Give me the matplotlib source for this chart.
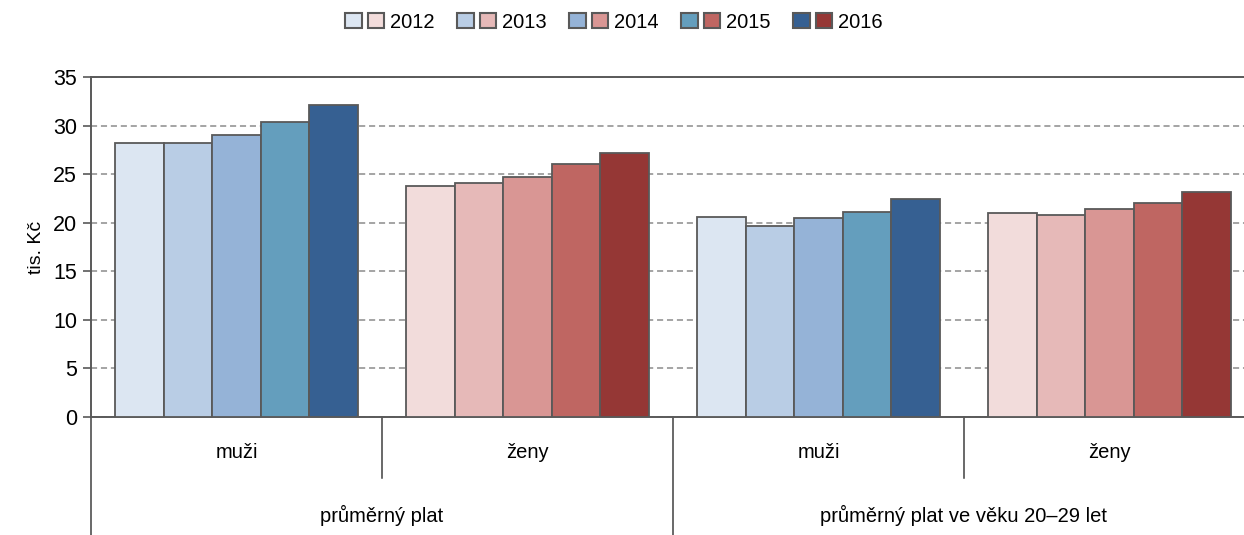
import numpy as np
import matplotlib
matplotlib.use('Agg')
from matplotlib import pyplot as plt
from matplotlib.patches import Patch
from matplotlib.legend_handler import HandlerTuple
import matplotlib.transforms as mtransforms

plt.rcParams['font.family'] = ['Liberation Sans', 'DejaVu Sans']

years = ['2012', '2013', '2014', '2015', '2016']
sub_labels = ['muži', 'ženy', 'muži', 'ženy']
top_labels = ['průměrný plat', 'průměrný plat ve věku 20–29 let']

# values in tis. Kc, one list per group
muzi_prumer = [28.2, 28.2, 29.0, 30.4, 32.1]
zeny_prumer = [23.8, 24.1, 24.7, 26.0, 27.2]
muzi_mladi = [20.6, 19.7, 20.5, 21.1, 22.4]
zeny_mladi = [21.0, 20.8, 21.4, 22.0, 23.2]

blues = ['#DCE6F2', '#B9CDE5', '#95B3D7', '#649EBD', '#366092']
reds = ['#F2DCDB', '#E6B9B8', '#D99694', '#BF6662', '#953735']

groups = [muzi_prumer, zeny_prumer, muzi_mladi, zeny_mladi]
group_colors = [blues, reds, blues, reds]

fig = plt.figure(figsize=(12.44, 5.35), dpi=100)
ax = fig.add_axes([91/1244, 1 - 417/535, 1164/1244, 340/535])

bw = 1/6
for g, (vals, cols) in enumerate(zip(groups, group_colors)):
    xs = g + (np.arange(5) - 2) * bw
    ax.bar(xs, vals, width=bw, color=cols, edgecolor='#595959', linewidth=1.3, zorder=3)

ax.set_xlim(-0.5, 3.5)
ax.set_ylim(0, 35)
ax.set_yticks(np.arange(0, 36, 5))
ax.yaxis.grid(True, linestyle=(0, (4, 2.5)), color='#8c8c8c', linewidth=1.1, zorder=0)
ax.set_xticks([])
ax.spines['right'].set_visible(False)
for s in ['top', 'left', 'bottom']:
    ax.spines[s].set_color('#595959')
    ax.spines[s].set_linewidth(1.4)
ax.tick_params(axis='y', length=6, width=1.2, color='#595959', labelsize=15.5, pad=4)
ax.set_ylabel('tis. Kč', fontsize=14, labelpad=6)

# hierarchical category axis
trans = mtransforms.blended_transform_factory(ax.transData, ax.transAxes)
for x in [0.5, 2.5]:
    ax.plot([x, x], [0, -0.18], color='#404040', lw=1.1, transform=trans, clip_on=False)
for x in [-0.5, 1.5]:
    ax.plot([x, x], [0, -0.36], color='#404040', lw=1.1, transform=trans, clip_on=False)
for g, lab in enumerate(sub_labels):
    ax.text(g, -0.103, lab, transform=trans, ha='center', va='center', fontsize=14.5)
for g, lab in enumerate(top_labels):
    ax.text(2 * g + 0.5, -0.29, lab, transform=trans, ha='center', va='center', fontsize=14.5)

handles = [(Patch(facecolor=b, edgecolor='#595959', lw=1.5), Patch(facecolor=r, edgecolor='#595959', lw=1.5))
           for b, r in zip(blues, reds)]
fig.legend(handles, years, handler_map={tuple: HandlerTuple(ndivide=None, pad=0.3)},
           loc='center', bbox_to_anchor=(614/1244, 1 - 22/535), ncol=5, frameon=False,
           fontsize=14.5, handlelength=1.95, handleheight=0.8, handletextpad=0.3, columnspacing=1.1)

fig.savefig('out.png', dpi=100)
